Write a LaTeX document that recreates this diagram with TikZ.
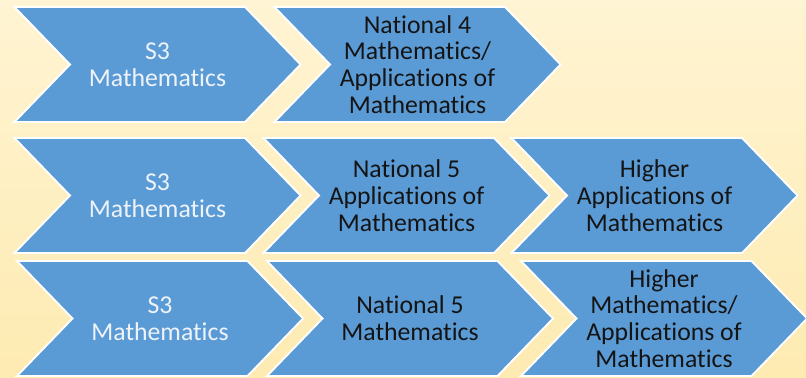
\documentclass[tikz,border=0pt]{standalone}
\usepackage{fontspec}
\setmainfont{Carlito}[Ligatures=NoCommon]
\usepackage{tikz}
\usetikzlibrary{shapes.symbols, positioning}
\definecolor{chblue}{HTML}{5B9BD5}
\definecolor{chpale}{HTML}{FFF4D3}
\definecolor{chsand}{HTML}{FEEBB2}
\definecolor{chwhite}{HTML}{EEF3FA}
\definecolor{chink}{HTML}{141414}

\begin{document}
\begin{tikzpicture}[x=0.025cm, y=-0.025cm,
      font=\fontsize{18.3}{19}\selectfont,
      chev/.style={shape=signal, signal from=west, signal to=east, signal pointer angle=92,
                   draw=white, line width=1.3pt, fill=chblue, inner sep=0pt, align=center,
                   minimum width=7.15cm, minimum height=2.875cm, text=chink},
      first/.style={chev, text=chwhite}]
      \shade[top color=chpale, bottom color=chsand] (0,0) rectangle (806,377);
      \useasboundingbox (0,0) rectangle (806,377);

      % row 1
      \node[first] (a1) at (157.5,64.5) {S3\\Mathematics};
      \node[chev]  (a2) at (417.5,64.5) {National 4\\Mathematics/\\Applications of\\Mathematics};

      % row 2
      \node[first] (b1) at (157.5,195.5) {S3\\Mathematics};
      \node[chev]  (b2) at (406.5,195.5) {National 5\\Applications of\\Mathematics};
      \node[chev]  (b3) at (654.5,195.5) {Higher\\Applications of\\Mathematics};

      % row 3
      \node[first] (c1) at (160,318.5) {S3\\Mathematics};
      \node[chev]  (c2) at (410,318.5) {National 5\\Mathematics};
      \node[chev]  (c3) at (664,318.5) {Higher\\Mathematics/\\Applications of\\Mathematics};
\end{tikzpicture}
\end{document}
